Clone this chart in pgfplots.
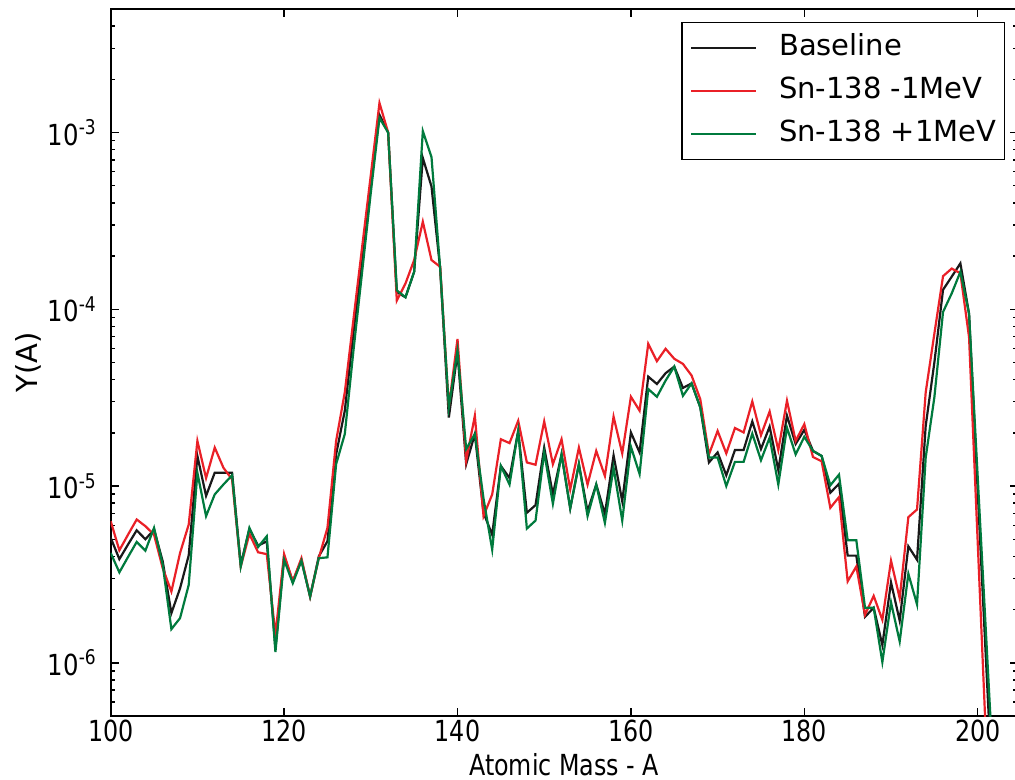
\documentclass[border=0pt]{standalone}
\usepackage{pgfplots}
\pgfplotsset{compat=1.18}
\usepackage{pgfplotstable}
\usepackage{fontspec}
\usepackage{graphicx}
\setmainfont{DejaVu Sans}

\definecolor{cblack}{RGB}{25,25,25}
\definecolor{cred}{RGB}{234,32,39}
\definecolor{cgreen}{RGB}{0,122,61}

\pgfplotstableread{
A base minus plus
100 5.1e-6 6.33e-6 4.18e-6
101 3.86e-6 4.33e-6 3.25e-6
102 4.67e-6 5.31e-6 3.97e-6
103 5.62e-6 6.47e-6 4.83e-6
104 5.0e-6 5.93e-6 4.31e-6
105 5.67e-6 5.31e-6 5.8e-6
106 3.75e-6 3.43e-6 3.59e-6
107 1.91e-6 2.53e-6 1.55e-6
108 2.64e-6 4.18e-6 1.79e-6
109 4.06e-6 6.06e-6 2.76e-6
110 1.48e-5 1.8e-5 1.19e-5
111 8.8e-6 1.11e-5 6.76e-6
112 1.19e-5 1.65e-5 8.97e-6
113 1.19e-5 1.27e-5 1.02e-5
114 1.19e-5 1.09e-5 1.15e-5
115 3.59e-6 3.51e-6 3.51e-6
116 5.72e-6 5.36e-6 5.8e-6
117 4.6e-6 4.22e-6 4.52e-6
118 4.87e-6 4.12e-6 5.2e-6
119 1.21e-6 1.44e-6 1.15e-6
120 4.0e-6 4.12e-6 3.83e-6
121 2.89e-6 2.89e-6 2.82e-6
122 3.8e-6 3.91e-6 3.78e-6
123 2.37e-6 2.37e-6 2.37e-6
124 4.0e-6 3.91e-6 3.91e-6
125 4.87e-6 5.8e-6 3.95e-6
126 1.51e-5 1.8e-5 1.33e-5
127 2.67e-5 3.39e-5 1.97e-5
128 7.4e-5 8.77e-5 5.85e-5
129 1.95e-4 2.25e-4 1.63e-4
130 5.07e-4 5.75e-4 4.57e-4
131 1.26e-3 1.47e-3 1.21e-3
132 1.0e-3 1.0e-3 1.0e-3
133 1.25e-4 1.12e-4 1.28e-4
134 1.17e-4 1.4e-4 1.17e-4
135 1.63e-4 1.9e-4 1.63e-4
136 7.18e-4 3.13e-4 1.02e-3
137 4.95e-4 1.9e-4 7.27e-4
138 1.7e-4 1.74e-4 1.7e-4
139 2.44e-5 2.8e-5 2.8e-5
140 5.7e-5 6.8e-5 5.85e-5
141 1.33e-5 1.39e-5 1.62e-5
142 1.97e-5 2.5e-5 1.97e-5
143 7.06e-6 6.76e-6 8.5e-6
144 5.31e-6 8.97e-6 4.37e-6
145 1.3e-5 1.84e-5 1.3e-5
146 1.11e-5 1.75e-5 1.02e-5
147 2.05e-5 2.34e-5 2.05e-5
148 7.06e-6 1.36e-5 5.75e-6
149 7.8e-6 1.32e-5 6.38e-6
150 1.65e-5 2.32e-5 1.55e-5
151 8.97e-6 1.33e-5 7.94e-6
152 1.51e-5 1.84e-5 1.51e-5
153 7.47e-6 9.57e-6 7.5e-6
154 1.33e-5 1.65e-5 1.33e-5
155 7.2e-6 1.02e-5 6.76e-6
156 1.02e-5 1.58e-5 1.02e-5
157 6.96e-6 1.14e-5 6.19e-6
158 1.49e-5 2.47e-5 1.27e-5
159 8.22e-6 1.53e-5 6.38e-6
160 2.01e-5 3.2e-5 1.67e-5
161 1.55e-5 2.67e-5 1.17e-5
162 4.16e-5 6.38e-5 3.54e-5
163 3.78e-5 5.09e-5 3.2e-5
164 4.35e-5 5.98e-5 3.95e-5
165 4.74e-5 5.25e-5 4.74e-5
166 3.59e-5 4.91e-5 3.24e-5
167 3.81e-5 4.22e-5 3.81e-5
168 2.79e-5 3.1e-5 2.79e-5
169 1.36e-5 1.51e-5 1.45e-5
170 1.55e-5 2.05e-5 1.45e-5
171 1.15e-5 1.53e-5 1.0e-5
172 1.6e-5 2.13e-5 1.37e-5
173 1.6e-5 2.01e-5 1.37e-5
174 2.32e-5 3.01e-5 1.98e-5
175 1.62e-5 1.94e-5 1.4e-5
176 2.17e-5 2.64e-5 1.88e-5
177 1.23e-5 1.6e-5 1.02e-5
178 2.5e-5 3.04e-5 2.14e-5
179 1.73e-5 1.8e-5 1.51e-5
180 2.08e-5 2.24e-5 1.9e-5
181 1.58e-5 1.46e-5 1.58e-5
182 1.48e-5 1.38e-5 1.48e-5
183 9.17e-6 7.53e-6 1.01e-5
184 1.03e-5 8.66e-6 1.16e-5
185 4.04e-6 2.89e-6 4.93e-6
186 4.04e-6 3.51e-6 4.93e-6
187 1.82e-6 1.87e-6 2.05e-6
188 2.05e-6 2.39e-6 2.05e-6
189 1.26e-6 1.75e-6 1.01e-6
190 2.85e-6 3.78e-6 2.2e-6
191 1.73e-6 2.32e-6 1.32e-6
192 4.56e-6 6.67e-6 3.19e-6
193 3.83e-6 7.37e-6 2.14e-6
194 2.19e-5 3.39e-5 1.45e-5
195 5.0e-5 7.28e-5 3.18e-5
196 1.29e-4 1.54e-4 9.66e-5
197 1.53e-4 1.7e-4 1.23e-4
198 1.82e-4 1.6e-4 1.63e-4
199 9.45e-5 6.96e-5 9.45e-5
200 9.3e-6 4.8e-6 1.12e-5
201 9.3e-7 3.3e-7 1.33e-6
202 9.3e-8 2.3e-8 1.58e-7
}\data

\begin{document}
\fontsize{14.5bp}{17bp}\selectfont
\begin{tikzpicture}
\begin{axis}[
  scale only axis,
  width=453.45bp, height=353.5bp,
  xmin=100, xmax=204.6,
  ymode=log, ymin=5e-7, ymax=5e-3,
  axis line style={line width=1bp, black},
  tick style={line width=0.7bp, black},
  major tick length=4bp, minor tick length=2.2bp,
  tick align=inside,
  xtick={100,120,140,160,180,200},
  xticklabels={\scalebox{0.82}[1]{100},\scalebox{0.82}[1]{120},\scalebox{0.82}[1]{140},\scalebox{0.82}[1]{160},\scalebox{0.82}[1]{180},\scalebox{0.82}[1]{200}},
  xticklabel style={inner sep=0pt, anchor=north, yshift=-1.75bp},
  ytick={1e-6,1e-5,1e-4,1e-3},
  yticklabels={\scalebox{0.84}[1]{10\textsuperscript{-6}},\scalebox{0.84}[1]{10\textsuperscript{-5}},\scalebox{0.84}[1]{10\textsuperscript{-4}},\scalebox{0.84}[1]{10\textsuperscript{-3}}},
  yticklabel style={inner sep=0pt, anchor=east, xshift=-6.85bp},
  minor ytick={6e-7,7e-7,8e-7,9e-7,2e-6,3e-6,4e-6,5e-6,6e-6,7e-6,8e-6,9e-6,2e-5,3e-5,4e-5,5e-5,6e-5,7e-5,8e-5,9e-5,2e-4,3e-4,4e-4,5e-4,6e-4,7e-4,8e-4,9e-4,2e-3,3e-3,4e-3},
  xlabel={\scalebox{0.82}[1]{Atomic Mass - A}},
  ylabel={Y(A)},
  every axis x label/.style={at={(axis description cs:0.5,-0.0835)}, anchor=base},
  every axis y label/.style={at={(axis description cs:-0.0906,0.5)}, anchor=center, rotate=90},
  legend style={at={(rel axis cs:1,1)}, anchor=north east, xshift=-6.3bp, yshift=-6.5bp,
    draw=black, line width=0.6bp, inner xsep=4bp, inner ysep=5.5bp,
    column sep=11bp, row sep=7bp, fill=white,
    nodes={inner sep=0pt, text height=11bp, text depth=3.5bp}},
  legend cell align=left,
  legend image code/.code={\path (0bp,0bp) -- (5bp,0bp); \draw[#1] (5bp,0bp) -- (32.5bp,0bp);},
]
\addplot[cblack, line width=1.1bp] table[x=A, y=base] {\data};
\addlegendentry{Baseline}
\addplot[cred, line width=1.1bp] table[x=A, y=minus] {\data};
\addlegendentry{Sn-138 -1MeV}
\addplot[cgreen, line width=1.1bp] table[x=A, y=plus] {\data};
\addlegendentry{Sn-138 +1MeV}
\coordinate (bl) at (rel axis cs:0,0);
\coordinate (tr) at (axis cs:204.3,5e-3);
\end{axis}
\pgfresetboundingbox
\path[use as bounding box] ([xshift=-55.35bp,yshift=-32bp]bl) rectangle ([yshift=4.5bp]tr);
\end{tikzpicture}
\end{document}
